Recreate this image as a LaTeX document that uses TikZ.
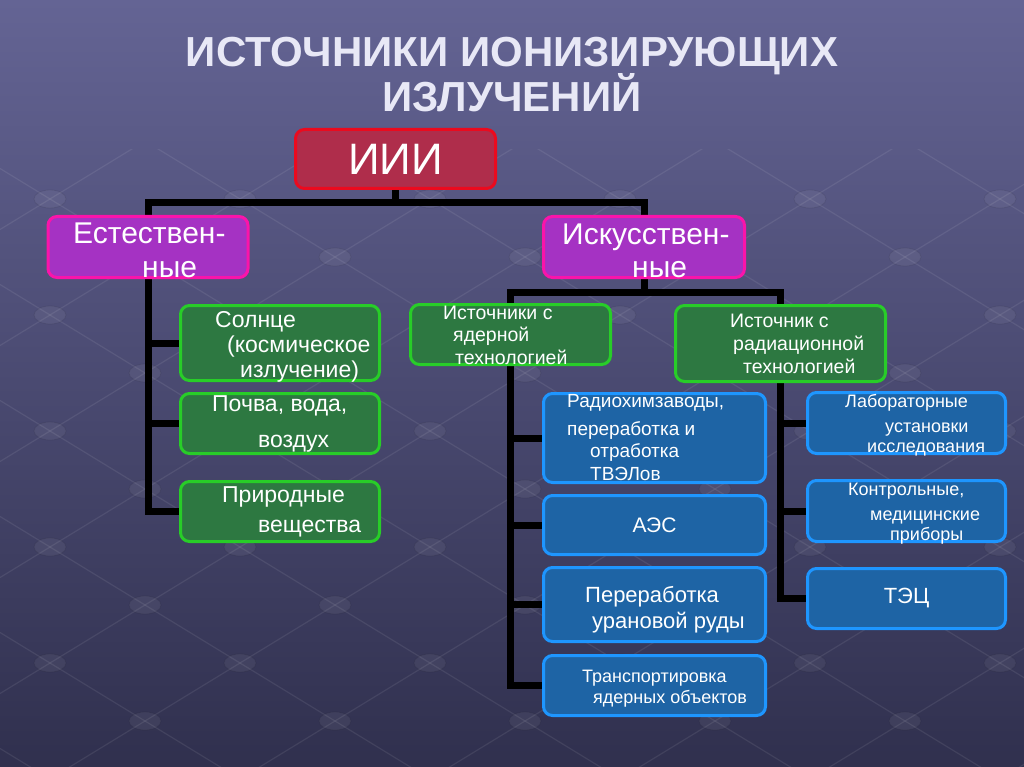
\documentclass[tikz,border=0pt]{standalone}
\usepackage{fontspec}
\setmainfont{Liberation Sans}
\pgfdeclarelayer{bgl}
\pgfdeclarelayer{lnk}
\pgfsetlayers{bgl,lnk,main}
\definecolor{bgtop}{RGB}{100,100,148}
\definecolor{bgbot}{RGB}{48,48,78}
\definecolor{redfill}{RGB}{175,45,75}
\definecolor{redline}{RGB}{235,10,30}
\definecolor{purfill}{RGB}{165,50,195}
\definecolor{purline}{RGB}{250,20,170}
\definecolor{grnfill}{RGB}{45,120,65}
\definecolor{grnline}{RGB}{40,205,40}
\definecolor{blufill}{RGB}{30,100,165}
\definecolor{bluline}{RGB}{30,150,255}
\definecolor{titlec}{RGB}{232,232,246}
\newcommand\fsz[2]{\fontsize{#1}{#2}\selectfont}
\tikzset{
  box/.style={draw, line width=3pt, rounded corners=9pt, inner sep=0pt, text=white},
  redbox/.style={box, draw=redline, fill=redfill},
  purbox/.style={box, draw=purline, fill=purfill},
  grnbox/.style={box, draw=grnline, fill=grnfill},
  blubox/.style={box, draw=bluline, fill=blufill},
  conn/.style={line width=7pt, black, line cap=rect, line join=miter},
  txt/.style={text=white, inner sep=0pt, align=left, anchor=base west},
  ttl/.style={inner sep=0pt, anchor=base, font=\bfseries\fsz{42}{42}, text=titlec},
  gridline/.style={white, opacity=0.08, line width=1.2pt},
  griddot/.style={fill=white, fill opacity=0.06, draw=black, draw opacity=0.08, line width=0.8pt}
}
\begin{document}
\begin{tikzpicture}[x=1pt,y=-1pt]
\useasboundingbox (0,0) rectangle (1024,767);
\begin{pgfonlayer}{bgl}
  \shade[top color=bgtop, bottom color=bgbot] (0,0) rectangle (1024,767);
  \begin{scope}
    \clip (0,150) rectangle (1024,767);
    \foreach \k in {-8,...,10} {
      \draw[gridline] (145+\k*190-95*8, 605-58*8) -- ++(95*14, 58*14);
      \draw[gridline] (145+\k*190+95*8, 605-58*8) -- ++(-95*14, 58*14);
    }
    \foreach \m in {-7,...,3} {
      \foreach \k in {-2,...,6} {
        \pgfmathsetmacro\px{145+\k*190+95*mod(\m+20,2)}
        \pgfmathsetmacro\py{605+58*\m}
        \fill[griddot] (\px,\py) ellipse (16 and 9);
      }
    }
  \end{scope}
\end{pgfonlayer}

% title
\node[ttl] (ttl1) at (512,67) {ИСТОЧНИКИ ИОНИЗИРУЮЩИХ};
\node[ttl] (ttl2) at (512,112) {ИЗЛУЧЕНИЙ};

% boxes
\node[redbox, minimum width=200pt, minimum height=59pt, font=\fsz{44}{44}] (iii) at (395.5,159) {ИИИ};
\node[purbox, minimum width=200pt, minimum height=61pt] (nat) at (148,247) {};
\node[purbox, minimum width=201pt, minimum height=61pt] (art) at (644,247) {};
\node[grnbox, minimum width=199pt, minimum height=75pt] (sun) at (280,343) {};
\node[grnbox, minimum width=199pt, minimum height=60pt] (soil) at (280,423.5) {};
\node[grnbox, minimum width=199pt, minimum height=60pt] (prir) at (280,511.5) {};
\node[grnbox, minimum width=200pt, minimum height=60pt] (nuc) at (510.5,334.5) {};
\node[grnbox, minimum width=210pt, minimum height=76pt] (rad) at (780.5,343.5) {};
\node[blubox, minimum width=222pt, minimum height=89pt] (rcz) at (654.5,438) {};
\node[blubox, minimum width=222pt, minimum height=59pt, font=\fsz{21}{21}] (aes) at (654.5,525) {АЭС};
\node[blubox, minimum width=222pt, minimum height=74pt] (ura) at (654.5,604.5) {};
\node[blubox, minimum width=222pt, minimum height=60pt] (trn) at (654.5,685.5) {};
\node[blubox, minimum width=198pt, minimum height=61pt] (lab) at (906.5,423) {};
\node[blubox, minimum width=198pt, minimum height=61pt] (ctl) at (906.5,511) {};
\node[blubox, minimum width=198pt, minimum height=60pt, font=\fsz{22}{22}] (tec) at (906.5,598.5) {ТЭЦ};

% texts (anchored at the baseline of the last line)
\node[txt, font=\fsz{30}{34}] (tnat) at (73,277) {Естествен-\\\hspace*{69pt}ные};
\node[txt, font=\fsz{30}{33}] (tart) at (562,277) {Искусствен-\\\hspace*{70pt}ные};
\node[txt, font=\fsz{23}{25}] (tsun) at (215,377) {Солнце\\\hspace*{12pt}(космическое\\\hspace*{25pt}излучение)};
\node[txt, font=\fsz{23}{36}] (tsoil) at (212,447) {Почва, вода,\\\hspace*{46pt}воздух};
\node[txt, font=\fsz{23}{30}] (tprir) at (222,532) {Природные\\\hspace*{36pt}вещества};
\node[txt, font=\fsz{19.5}{22.5}] (tnuc) at (443,364) {Источники с\\\hspace*{10pt}ядерной\\\hspace*{12pt}технологией};
\node[txt, font=\fsz{19.5}{23}] (trad) at (730,373) {Источник с\\\hspace*{3pt}радиационной\\\hspace*{13pt}технологией};
\node[txt, font=\fsz{19}{22.5}] (trcz) at (567,480) {Радиохимзаводы,\\[5pt]переработка и\\\hspace*{23pt}отработка\\\hspace*{23pt}ТВЭЛов};
\node[txt, font=\fsz{22}{26}] (tura) at (585,628) {Переработка\\\hspace*{7pt}урановой руды};
\node[txt, font=\fsz{18}{21}] (ttrn) at (582,703) {Транспортировка\\\hspace*{11pt}ядерных объектов};
\node[txt, font=\fsz{18}{22.5}] (tlab) at (845,452) {Лабораторные\\[2.5pt]\hspace*{40pt}установки\\[-2.5pt]\hspace*{22pt}исследования};
\node[txt, font=\fsz{18}{22.5}] (tctl) at (848,540) {Контрольные,\\[2.5pt]\hspace*{22pt}медицинские\\[-2.5pt]\hspace*{42pt}приборы};

% connectors
\begin{pgfonlayer}{lnk}
  \coordinate (h0) at (0,203);
  \coordinate (h1) at (0,292);
  \draw[conn] (iii.south) -- (iii.south |- h0);
  \draw[conn] (nat.north) -- (nat.north |- h0) -- (art.north |- h0) -- (art.north);
  \draw[conn] (nat.center) |- (prir.west);
  \draw[conn] (nat.center |- sun.west) -- (sun.west);
  \draw[conn] (nat.center |- soil.west) -- (soil.west);
  \draw[conn] (art.center) -- (art.center |- h1);
  \draw[conn] (nuc.center |- h1) -- (rad.center |- h1);
  \draw[conn] (nuc.center |- h1) |- (trn.west);
  \draw[conn] (rad.center |- h1) |- (tec.west);
  \draw[conn] (nuc.center |- rcz.west) -- (rcz.west);
  \draw[conn] (nuc.center |- aes.west) -- (aes.west);
  \draw[conn] (nuc.center |- ura.west) -- (ura.west);
  \draw[conn] (rad.center |- lab.west) -- (lab.west);
  \draw[conn] (rad.center |- ctl.west) -- (ctl.west);
\end{pgfonlayer}
\end{tikzpicture}
\end{document}
